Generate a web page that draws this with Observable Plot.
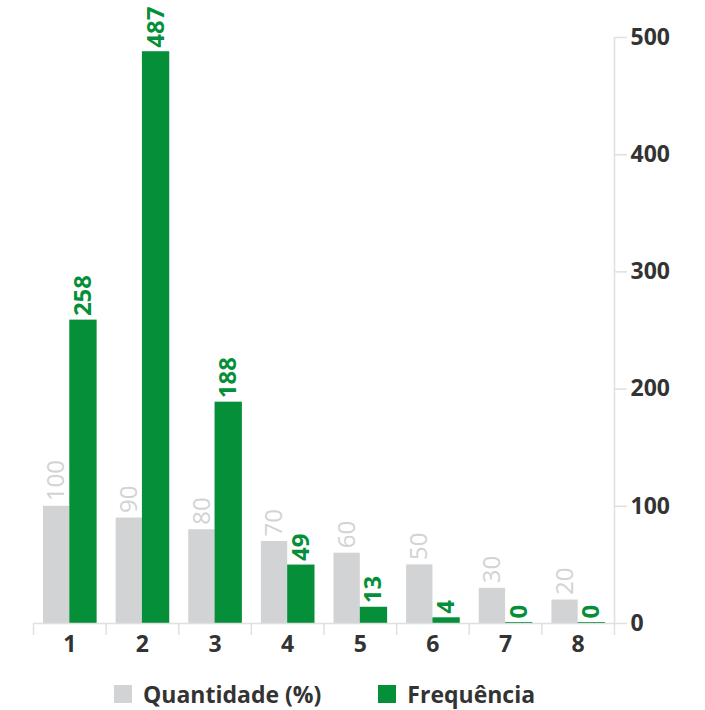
<!DOCTYPE html>
<html>
<head>
<meta charset="utf-8">
<script src="https://cdn.jsdelivr.net/npm/d3@7"></script>
<script src="https://cdn.jsdelivr.net/npm/@observablehq/plot@0.6"></script>
<style>
  body { margin: 0; background: #fff; font-family: "Open Sans", sans-serif; }
  #wrap { position: relative; width: 705px; height: 710px; }
  .legend { position: absolute; top: 678px; left: 114px; display: flex; align-items: center; font-weight: bold; font-size: 23px; color: #333; }
  .legend .sw { width: 18px; height: 18px; display: inline-block; margin-right: 11px; }
  .legend .item { display: flex; align-items: center; }
</style>
</head>
<body>
<div id="wrap">
  <div id="chart"></div>
  <div class="legend">
    <div class="item" style="margin-right:57px"><span class="sw" style="background:#d1d3d4"></span>Quantidade (%)</div>
    <div class="item"><span class="sw" style="background:#048f38"></span>Frequência</div>
  </div>
</div>
<script>
const categories = [1, 2, 3, 4, 5, 6, 7, 8];
const quantidade = [100, 90, 80, 70, 60, 50, 30, 20];
const frequencia = [258, 487, 188, 49, 13, 4, 0, 0];
const yTicks = [0, 100, 200, 300, 400, 500];

const GRAY = "#d1d3d4";
const GREEN = "#048f38";
const AXIS = "#e0e0e0";

const data = categories.map((c, i) => ({c, q: quantidade[i], f: frequencia[i]}));
const boundaries = [...categories.map(c => c - 0.5), categories[categories.length - 1] + 0.5];

const chart = Plot.plot({
  width: 705,
  height: 665,
  marginLeft: 33,
  marginRight: 91,
  marginTop: 37,
  marginBottom: 42,
  style: {fontFamily: "Open Sans, sans-serif", background: "#fff"},
  x: {type: "linear", domain: [0.5, 8.5]},
  y: {domain: [0, 500]},
  marks: [
    Plot.rect(data, {x1: d => d.c - 0.5, x2: d => d.c + 0.5, y1: 0, y2: "q", fill: GRAY, insetLeft: 10, insetRight: 36.3}),
    Plot.rect(data, {x1: d => d.c - 0.5, x2: d => d.c + 0.5, y1: 0, y2: "f", fill: GREEN, insetLeft: 36.3, insetRight: 9, insetTop: -1}),
    Plot.ruleY([0], {stroke: AXIS, strokeWidth: 1.5}),
    Plot.ruleX([boundaries[boundaries.length - 1]], {y1: 0, y2: 500, stroke: AXIS, strokeWidth: 1.5}),
    Plot.axisX({ticks: boundaries, tickSize: 12, tickFormat: () => "", stroke: AXIS, strokeWidth: 1.5, label: null}),
    Plot.axisX({ticks: categories, tickSize: 0, tickPadding: 12, tickFormat: d => String(d), fontSize: 23, fontWeight: "bold", fill: "#333", label: null}),
    Plot.axisY({anchor: "right", ticks: yTicks, tickSize: 12, tickPadding: 4, stroke: AXIS, strokeWidth: 1.5, fontSize: 23, fontWeight: "bold", fill: "#333", label: null}),
    Plot.text(data, {x: "c", y: "q", text: d => String(d.q), rotate: -90, textAnchor: "start", dx: -13.2, dy: -5, fill: GRAY, fontSize: 24}),
    Plot.text(data, {x: "c", y: "f", text: d => String(d.f), rotate: -90, textAnchor: "start", dx: 13.4, dy: -5, fill: GREEN, fontSize: 24, fontWeight: "bold"})
  ]
});
document.getElementById("chart").appendChild(chart);
</script>
</body>
</html>
